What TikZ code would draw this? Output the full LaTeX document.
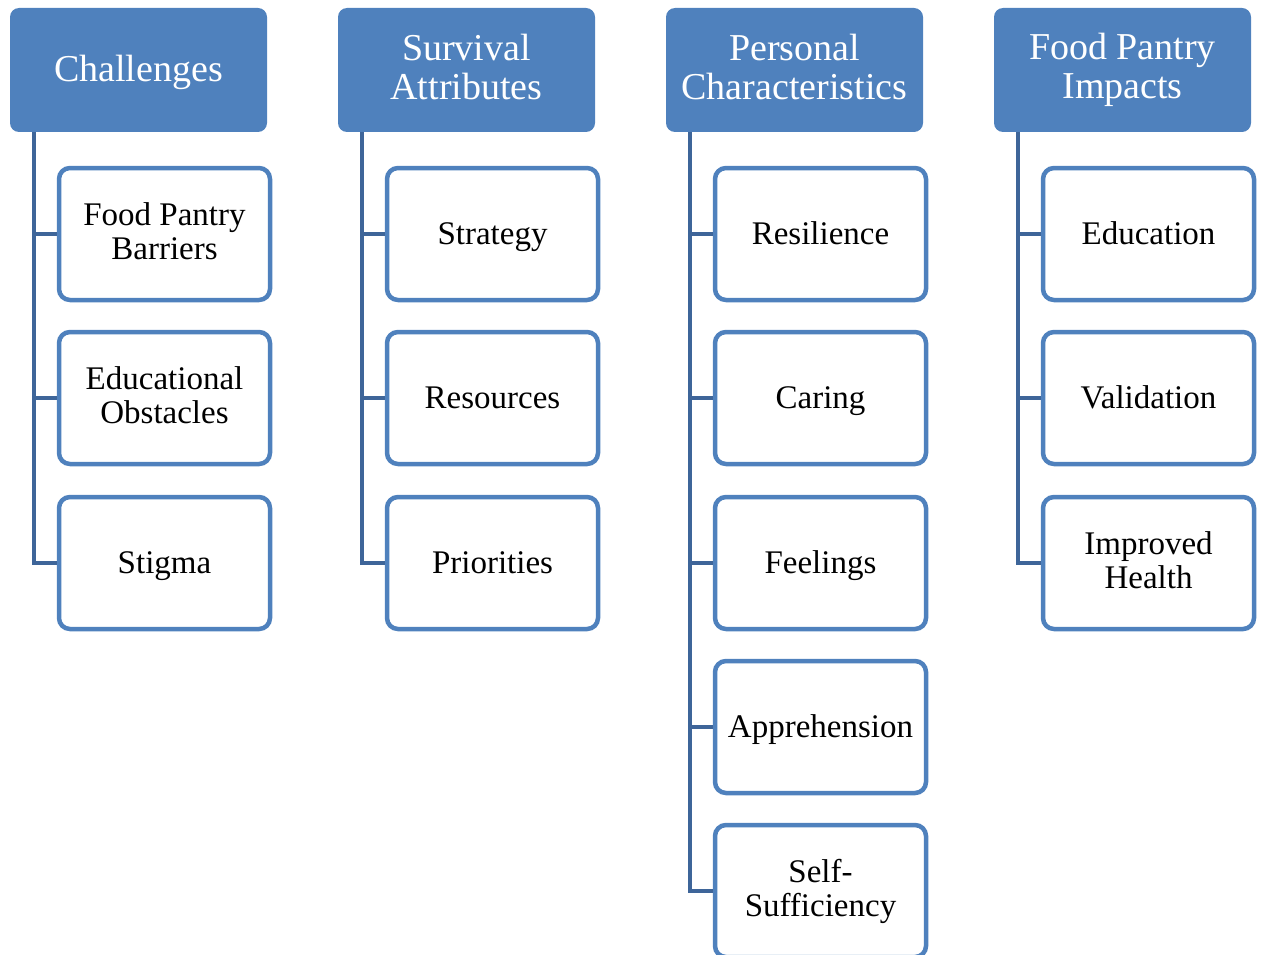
\documentclass[tikz,border=0pt]{standalone}
\usepackage{fontspec}
\setmainfont{Liberation Serif}

\definecolor{hdrblue}{RGB}{79,129,189}
\definecolor{linkblue}{RGB}{62,101,153}

% tall strut with a short depth, so all labels sit at the same height
\newcommand{\lowstrut}{\rule[-0.18\baselineskip]{0pt}{\baselineskip}}

\tikzset{
  header/.style={rectangle, rounded corners=9pt, fill=hdrblue, text=white,
    minimum width=257pt, minimum height=124pt, inner sep=0pt, align=center,
    font=\fontsize{38}{39}\selectfont,
    execute at begin node=\lowstrut, execute at end node=\lowstrut},
  item/.style={rectangle, rounded corners=11pt, draw=hdrblue, line width=4.5pt,
    fill=white, minimum width=211pt, minimum height=132pt, inner sep=0pt,
    align=center, font=\fontsize{33}{34}\selectfont,
    execute at begin node=\lowstrut, execute at end node=\lowstrut},
  link/.style={draw=linkblue, line width=4.5pt}
}

\begin{document}
\begin{tikzpicture}[x=1pt,y=-1pt]
  \clip (0,0) rectangle (1263,955);

  % column 1
  \node[header] (chal) at (138.5,70) {Challenges};
  \node[item] (chal1) at (164.5,234) {Food Pantry\\Barriers};
  \node[item] (chal2) at (164.5,398) {Educational\\Obstacles};
  \node[item] (chal3) at (164.5,563) {Stigma};
  \draw[link] ([xshift=24pt]chal.south west) coordinate (chaltop) |- (chal3.west);
  \foreach \k in {1,2}
    \draw[link] (chaltop |- chal\k.west) -- (chal\k.west);

  % column 2
  \node[header] (surv) at (466.5,70) {Survival\\Attributes};
  \node[item] (surv1) at (492.5,234) {Strategy};
  \node[item] (surv2) at (492.5,398) {Resources};
  \node[item] (surv3) at (492.5,563) {Priorities};
  \draw[link] ([xshift=24pt]surv.south west) coordinate (survtop) |- (surv3.west);
  \foreach \k in {1,2}
    \draw[link] (survtop |- surv\k.west) -- (surv\k.west);

  % column 3
  \node[header] (pers) at (794.5,70) {Personal\\Characteristics};
  \node[item] (pers1) at (820.5,234) {Resilience};
  \node[item] (pers2) at (820.5,398) {Caring};
  \node[item] (pers3) at (820.5,563) {Feelings};
  \node[item] (pers4) at (820.5,727) {Apprehension};
  \node[item] (pers5) at (820.5,891) {Self-\\Sufficiency};
  \draw[link] ([xshift=24pt]pers.south west) coordinate (perstop) |- (pers5.west);
  \foreach \k in {1,2,3,4}
    \draw[link] (perstop |- pers\k.west) -- (pers\k.west);

  % column 4
  \node[header] (impa) at (1122.5,70) {Food Pantry\\Impacts};
  \node[item] (impa1) at (1148.5,234) {Education};
  \node[item] (impa2) at (1148.5,398) {Validation};
  \node[item] (impa3) at (1148.5,563) {Improved\\Health};
  \draw[link] ([xshift=24pt]impa.south west) coordinate (impatop) |- (impa3.west);
  \foreach \k in {1,2}
    \draw[link] (impatop |- impa\k.west) -- (impa\k.west);
\end{tikzpicture}
\end{document}
